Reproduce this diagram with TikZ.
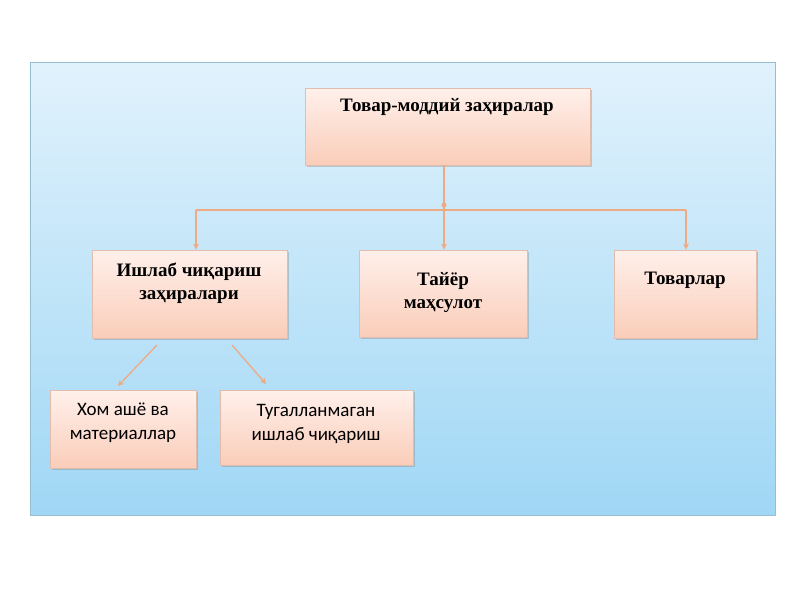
\documentclass[tikz,border=0pt]{standalone}
\usepackage{fontspec}
\setmainfont{Liberation Serif}
\newfontfamily\boxsans{Carlito}
\usetikzlibrary{positioning,shadows,arrows.meta}

\definecolor{panelTop}{RGB}{225,242,252}
\definecolor{panelBot}{RGB}{160,215,245}
\definecolor{boxTop}{RGB}{255,240,235}
\definecolor{boxBot}{RGB}{250,205,185}
\definecolor{linkCol}{RGB}{238,170,130}

\tikzset{
  box/.style={draw=boxBot!80!gray, line width=0.8pt, top color=boxTop, bottom color=boxBot,
    drop shadow={shadow xshift=1.5pt, shadow yshift=-1.5pt, opacity=.35}, inner sep=0pt},
  head/.style={font=\bfseries\fontsize{19}{23}\selectfont, align=center, inner sep=0pt},
  leaf/.style={font=\boxsans\fontsize{19}{24}\selectfont, align=center, inner sep=0pt},
  link/.style={draw=linkCol, line width=1.3pt},
  arr/.style={link, -{Stealth[length=6pt,width=6pt]}}
}

\begin{document}
\begin{tikzpicture}[x=1pt,y=-1pt]
\useasboundingbox (0,0) rectangle (800,600);
% panel
\shade[top color=panelTop, bottom color=panelBot, draw=panelBot!70!gray, line width=.6pt]
  (30,62) rectangle (775,515);
% boxes
\node[box, minimum width=285, minimum height=77] (stock) at (447.5,126.5) {};
\node[box, minimum width=195, minimum height=88] (prod) at (189.5,294) {};
\node[box, minimum width=168, minimum height=87] (ready) at (443,293.5) {};
\node[box, minimum width=142, minimum height=88] (goods) at (685,294) {};
\node[box, minimum width=146, minimum height=78] (raw) at (123,429) {};
\node[box, minimum width=193, minimum height=75] (wip) at (316.5,427.5) {};
% texts
\node[head] (stockT) at (447,107) {Товар-моддий заҳиралар};
\node[head] (prodT) at (189,283) {Ишлаб чиқариш\\заҳиралари};
\node[head] (readyT) at (443,293) {Тайёр\\маҳсулот};
\node[head] (goodsT) at (685,280) {Товарлар};
\node[leaf] (rawT) at (123,423) {Хом ашё ва\\материаллар};
\node[leaf] (wipT) at (316,424) {Тугалланмаган\\ишлаб чиқариш};
% links
\coordinate (bus) at (444,210);
\coordinate (busL) at (196,210);
\coordinate (busR) at (686,210);
\coordinate (p1) at (157,345);
\coordinate (p2) at (232,345);
\coordinate (q1) at (118,386);
\coordinate (q2) at (266,384);
\draw[link] (stock.south -| bus) -- (bus);
\draw[link] (busL) -- (busR);
\fill[linkCol] (444,205) circle (2.5);
\draw[arr] (busL) -- (busL |- prod.north);
\draw[arr] (bus) -- (bus |- ready.north);
\draw[arr] (busR) -- (busR |- goods.north);
\draw[arr] (p1) -- (q1);
\draw[arr] (p2) -- (q2);
\end{tikzpicture}
\end{document}
